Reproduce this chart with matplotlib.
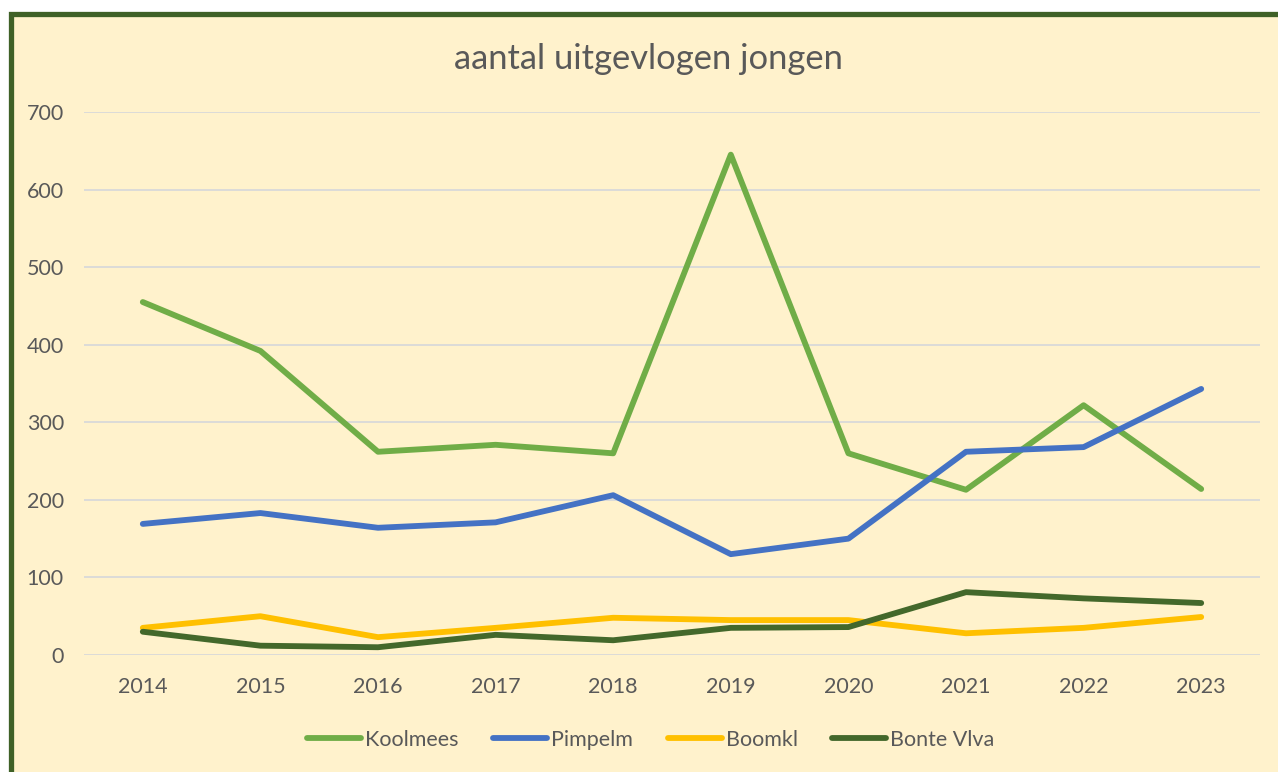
import matplotlib
matplotlib.use("Agg")
import matplotlib.pyplot as plt
from matplotlib.patches import Rectangle

years = [2014, 2015, 2016, 2017, 2018, 2019, 2020, 2021, 2022, 2023]
koolmees = [455, 392, 262, 271, 260, 645, 260, 213, 322, 214]
pimpelm = [169, 183, 164, 171, 206, 130, 150, 262, 268, 343]
boomkl = [35, 50, 23, 35, 48, 45, 45, 28, 35, 49]
bonte_vlva = [30, 12, 10, 26, 19, 35, 36, 81, 73, 67]
series_names = ["Koolmees", "Pimpelm", "Boomkl", "Bonte Vlva"]
title = "aantal uitgevlogen jongen"

colors = ["#70AD47", "#4472C4", "#FFC000", "#43682B"]
bg = "#FFF2CC"
txt = "#595959"

plt.rcParams['font.family'] = ['Lato', 'DejaVu Sans']

W, H = 1278, 772
fig = plt.figure(figsize=(W / 100, H / 100), dpi=100, facecolor="white")
# chart area border
fig.patches.append(Rectangle((10.5 / W, -0.1), 1.2, (H - 13.5) / H + 0.1,
                             transform=fig.transFigure, facecolor=bg,
                             edgecolor="#3F6127", linewidth=3.8, zorder=-5))

ax = fig.add_axes([84 / W, 1 - 655 / H, (1260 - 84) / W, (655 - 112) / H])
ax.set_zorder(2)
ax.set_facecolor("none")
for s in ax.spines.values():
    s.set_visible(False)

data = [koolmees, pimpelm, boomkl, bonte_vlva]
for name, vals, c in zip(series_names, data, colors):
    ax.plot(years, vals, color=c, lw=4.2, label=name, solid_capstyle="round",
            solid_joinstyle="round", clip_on=False, zorder=3)

ax.set_xlim(2013.5, 2023.5)
ax.set_ylim(0, 700)
ax.set_yticks(range(0, 701, 100))
ax.set_xticks(years)
ax.grid(axis="y", color="#D9D9D9", lw=1.3)
ax.set_axisbelow(True)
ax.tick_params(axis="both", length=0, labelsize=15.5, colors=txt)
ax.tick_params(axis="y", pad=14.5)
ax.tick_params(axis="x", pad=16)

fig.text(648 / W, 1 - 59 / H, title, ha="center", va="center", fontsize=24.8, color=txt)

leg = fig.legend(loc="center", bbox_to_anchor=(651 / W, 1 - 740 / H), ncol=4,
                 frameon=False, fontsize=15.5, handlelength=2.5, columnspacing=1.6,
                 handletextpad=0.2)
for t in leg.get_texts():
    t.set_color(txt)

fig.savefig("out.png", dpi=100, facecolor="white")
